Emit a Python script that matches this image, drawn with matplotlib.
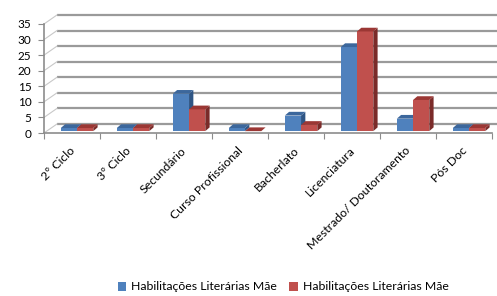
import numpy as np
import matplotlib.pyplot as plt
from matplotlib.patches import Polygon, Patch
from matplotlib.transforms import ScaledTranslation

plt.rcParams['font.family'] = ['Lato', 'DejaVu Sans']

categories = ['2º Ciclo', '3º Ciclo', 'Secundário', 'Curso Profissional', 'Bacherlato',
              'Licenciatura', 'Mestrado/ Doutoramento', 'Pós Doc']
serie_a = [1, 1, 12, 1, 5, 27, 4, 1]
serie_b = [1, 1, 7, 0, 2, 32, 10, 1]
legend_labels = ['Habilitações Literárias Mãe', 'Habilitações Literárias Mãe']
yticks = list(range(0, 36, 5))

# cores estilo Excel 2007: frente, topo, lado
cores = [('#4F81BD', '#3C679C', '#2F5584'),
         ('#C0504D', '#9B3734', '#7A2B29')]

fig = plt.figure(figsize=(4.97, 2.96), dpi=100)
ax = fig.add_axes([44/497, 163/296, 448/497, 109/296])
ax.set_xlim(0, 8)
ax.set_ylim(0, 35)

# profundidade da parede do fundo e das barras (unidades dos dados)
wall_dx, wall_dy = 0.232, 2.9
bar_dx, bar_dy = 0.077, 1.2
base = 0.6
largura = 0.29

for v in yticks:
    ax.plot([wall_dx, 8 + wall_dx], [v + wall_dy] * 2, color='#9a9a9a', lw=1.6,
            clip_on=False, zorder=1, solid_capstyle='butt')
    ax.plot([0, wall_dx], [v, v + wall_dy], color='#c8c8c8', lw=0.8,
            clip_on=False, zorder=1)


def barra(x0, h, c):
    x1 = x0 + largura
    frente = Polygon([(x0, base), (x1, base), (x1, base + h), (x0, base + h)],
                     closed=True, fc=c[0], ec='none', zorder=3)
    topo = Polygon([(x0, base + h), (x1, base + h), (x1 + bar_dx, base + h + bar_dy),
                    (x0 + bar_dx, base + h + bar_dy)], closed=True, fc=c[1], ec='none', zorder=3)
    lado = Polygon([(x1, base), (x1 + bar_dx, base + bar_dy), (x1 + bar_dx, base + h + bar_dy),
                    (x1, base + h)], closed=True, fc=c[2], ec='none', zorder=3)
    for p in (lado, frente, topo):
        ax.add_patch(p)


for i in range(len(categories)):
    c = i + 0.5
    barra(c - 0.2, serie_a[i], cores[0])
    barra(c - 0.2 + largura, serie_b[i], cores[1])

for s in ['top', 'right']:
    ax.spines[s].set_visible(False)
for s in ['left', 'bottom']:
    ax.spines[s].set_color('#8c8c8c')
    ax.spines[s].set_linewidth(1.2)

ax.set_yticks(yticks)
ax.set_yticklabels([str(v) for v in yticks], fontsize=8.5, color='black')
ax.tick_params(axis='y', length=4, color='#8c8c8c', pad=5)
ax.set_xticks(range(9))
ax.set_xticklabels([])
ax.tick_params(axis='x', length=4, color='#8c8c8c')

off = ScaledTranslation(-3/100, -12/100, fig.dpi_scale_trans)
for i, lab in enumerate(categories):
    ax.text(i + 0.5, 0, lab, transform=ax.get_xaxis_transform() + off,
            rotation=45, ha='right', va='top', rotation_mode='anchor', fontsize=8.8)

handles = [Patch(facecolor=cores[0][0]), Patch(facecolor=cores[1][0])]
fig.legend(handles, legend_labels, loc='center', bbox_to_anchor=(283/497, 9/296),
           ncol=2, frameon=False, fontsize=8.8, handlelength=0.7, handleheight=0.7,
           handletextpad=0.4, columnspacing=1.0)

fig.savefig('out.png', dpi=100)
